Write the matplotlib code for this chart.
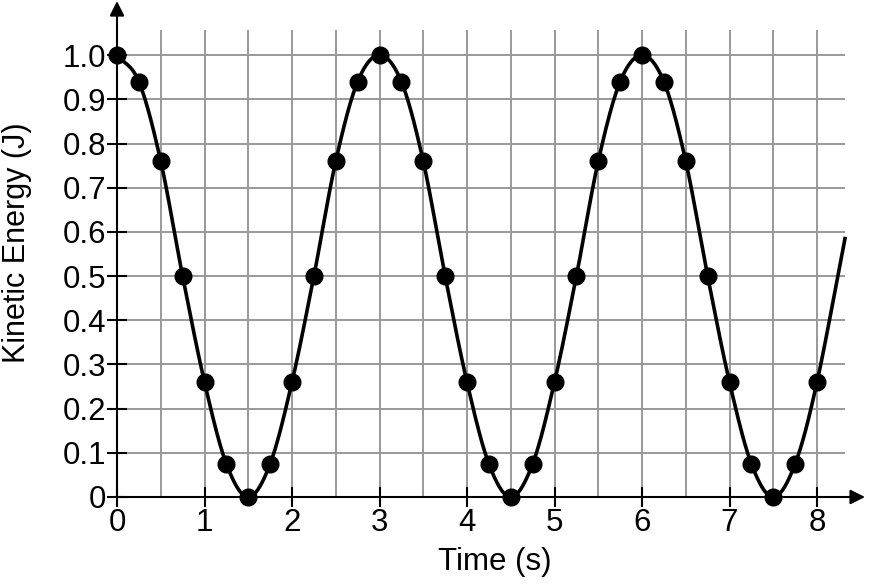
import numpy as np
import matplotlib.pyplot as plt

# measured points (every 0.25 s)
time_s = np.arange(0, 8.01, 0.25)
ke_one_period = [1.0, 0.94, 0.76, 0.5, 0.26, 0.075, 0.0, 0.075, 0.26, 0.5, 0.76, 0.94]
kinetic_j = (ke_one_period * 3)[:len(time_s) - 1] + [0.26]
# where the drawn curve stops on the right
curve_end_t = 8.32
curve_end_ke = 0.585

x_ticks = [0, 1, 2, 3, 4, 5, 6, 7, 8]
y_ticks = [0, 0.1, 0.2, 0.3, 0.4, 0.5, 0.6, 0.7, 0.8, 0.9, 1.0]
y_ticklabels = ['0', '0.1', '0.2', '0.3', '0.4', '0.5', '0.6', '0.7', '0.8', '0.9', '1.0']


def catmull_rom(xs, ys, n=30):
    # smooth line through the points
    px = np.concatenate([[2 * xs[0] - xs[1]], xs, [2 * xs[-1] - xs[-2]]])
    py = np.concatenate([[2 * ys[0] - ys[1]], ys, [2 * ys[-1] - ys[-2]]])
    out_x, out_y = [], []
    t = np.linspace(0, 1, n, endpoint=False)
    for i in range(1, len(px) - 2):
        for p, out in ((px, out_x), (py, out_y)):
            p0, p1, p2, p3 = p[i - 1], p[i], p[i + 1], p[i + 2]
            out.extend(0.5 * (2 * p1 + (-p0 + p2) * t
                              + (2 * p0 - 5 * p1 + 4 * p2 - p3) * t ** 2
                              + (-p0 + 3 * p1 - 3 * p2 + p3) * t ** 3))
    out_x.append(xs[-1])
    out_y.append(ys[-1])
    return np.array(out_x), np.array(out_y)


plt.rcParams['font.family'] = ['Liberation Sans', 'DejaVu Sans']

fig = plt.figure(figsize=(8.72, 5.84), dpi=100)
ax = fig.add_axes([117 / 872, 1 - 497 / 584, (845 - 117) / 872, (497 - 30) / 584])
ax.set_xlim(0, curve_end_t)
ax.set_ylim(0, 1.057)

# grid
for gx in np.arange(0.5, 8.01, 0.5):
    ax.axvline(gx, color='#999999', lw=1.4, zorder=0)
for gy in y_ticks[1:]:
    ax.axhline(gy, color='#999999', lw=1.4, zorder=0)

for s in ax.spines.values():
    s.set_visible(False)

ax.set_xticks(x_ticks)
ax.set_yticks(y_ticks)
ax.set_yticklabels(y_ticklabels)
ax.tick_params(direction='inout', length=14, width=1.5, labelsize=22.5, pad=1, color='black')

# axes with arrows
ax.annotate('', xy=(0, 1.062), xytext=(0, 0), xycoords='axes fraction',
            arrowprops=dict(arrowstyle='-|>', color='black', lw=1.5, mutation_scale=22,
                            shrinkA=0, shrinkB=0), annotation_clip=False)
ax.annotate('', xy=(1.0275, 0), xytext=(0, 0), xycoords='axes fraction',
            arrowprops=dict(arrowstyle='-|>', color='black', lw=1.5, mutation_scale=22,
                            shrinkA=0, shrinkB=0), annotation_clip=False)

cx, cy = catmull_rom(np.append(time_s, curve_end_t), np.append(kinetic_j, curve_end_ke))
ax.plot(cx, cy, color='black', lw=2.6, clip_on=False, zorder=3)
ax.plot(time_s, kinetic_j, 'o', color='black', ms=12, clip_on=False, zorder=4)

fig.text(495 / 872, 1 - 562 / 584, 'Time (s)', fontsize=22.5, ha='center', va='center')
fig.text(17 / 872, 1 - 243 / 584, 'Kinetic Energy (J)', fontsize=22, ha='center',
         va='center', rotation=90)

fig.savefig('out.png', dpi=100)
